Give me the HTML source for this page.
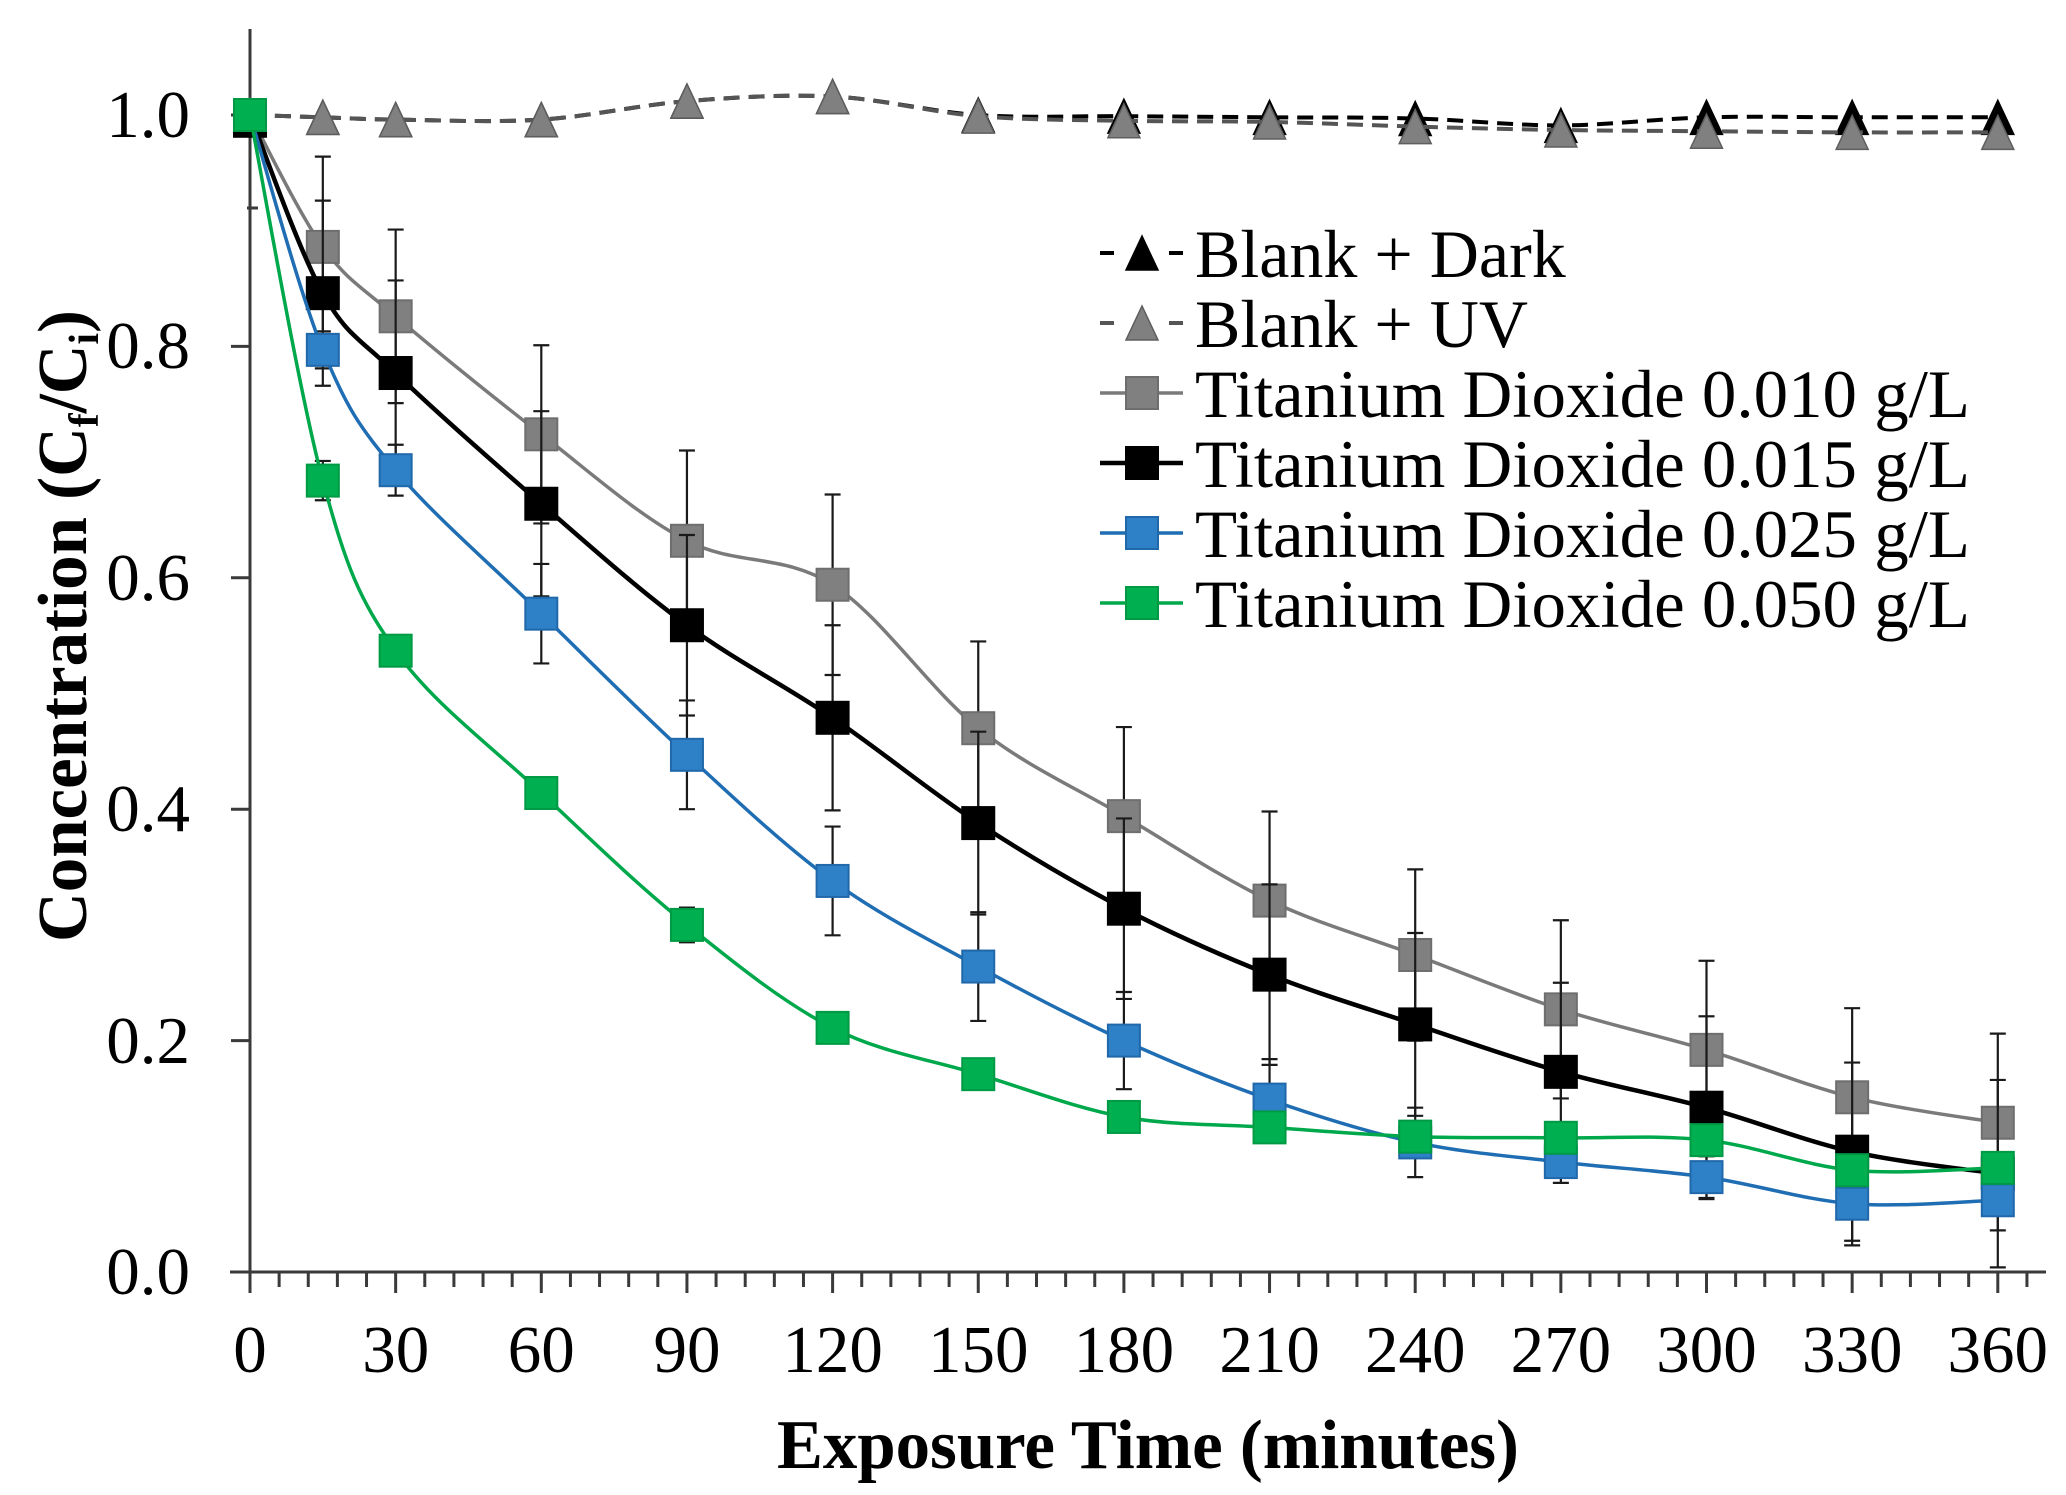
<!DOCTYPE html>
<html>
<head>
<meta charset="utf-8">
<style>
  html,body{margin:0;padding:0;background:#fff;}
  svg{display:block;}
  text{font-family:"Liberation Serif","Times New Roman",serif;fill:#000;}
</style>
</head>
<body>
<svg id="chart" xmlns="http://www.w3.org/2000/svg" width="2066" height="1495" viewBox="0 0 2066 1495">
  <rect x="0" y="0" width="2066" height="1495" fill="#fff"/>
  <g id="axes" stroke="#3a3a3a" stroke-width="3" fill="none"></g>
  <g id="series"></g>

  <!-- Y tick labels -->
  <g font-size="67" text-anchor="end">
    <text x="190" y="137">1.0</text>
    <text x="190" y="368">0.8</text>
    <text x="190" y="600">0.6</text>
    <text x="190" y="831">0.4</text>
    <text x="190" y="1063">0.2</text>
    <text x="190" y="1294">0.0</text>
  </g>

  <!-- X tick labels -->
  <g font-size="67" text-anchor="middle">
    <text x="250" y="1372">0</text>
    <text x="395.7" y="1372">30</text>
    <text x="541.3" y="1372">60</text>
    <text x="687" y="1372">90</text>
    <text x="832.6" y="1372">120</text>
    <text x="978.3" y="1372">150</text>
    <text x="1123.9" y="1372">180</text>
    <text x="1269.6" y="1372">210</text>
    <text x="1415.2" y="1372">240</text>
    <text x="1560.9" y="1372">270</text>
    <text x="1706.5" y="1372">300</text>
    <text x="1852.2" y="1372">330</text>
    <text x="1997.8" y="1372">360</text>
  </g>

  <!-- Axis titles -->
  <text x="1148" y="1468" font-size="70" font-weight="bold" text-anchor="middle" textLength="742" lengthAdjust="spacingAndGlyphs">Exposure Time (minutes)</text>
  <text transform="translate(86,626) rotate(-90)" x="0" y="0" font-size="70" font-weight="bold" text-anchor="middle" textLength="632" lengthAdjust="spacingAndGlyphs">Concentration (C<tspan font-size="42" dy="12">f</tspan><tspan dy="-12">/C</tspan><tspan font-size="42" dy="12">i</tspan><tspan dy="-12">)</tspan></text>

  <!-- Legend -->
  <g id="legendMarks"></g>
  <g font-size="68">
    <text x="1195" y="277">Blank + Dark</text>
    <text x="1195" y="347">Blank + UV</text>
    <text x="1195" y="417" textLength="775" lengthAdjust="spacingAndGlyphs">Titanium Dioxide 0.010 g/L</text>
    <text x="1195" y="487" textLength="775" lengthAdjust="spacingAndGlyphs">Titanium Dioxide 0.015 g/L</text>
    <text x="1195" y="557" textLength="775" lengthAdjust="spacingAndGlyphs">Titanium Dioxide 0.025 g/L</text>
    <text x="1195" y="627" textLength="775" lengthAdjust="spacingAndGlyphs">Titanium Dioxide 0.050 g/L</text>
  </g>
</svg>

<script>
(function(){
  var NS="http://www.w3.org/2000/svg";
  function el(tag,attrs,parent){
    var e=document.createElementNS(NS,tag);
    for(var k in attrs){e.setAttribute(k,attrs[k]);}
    parent.appendChild(e);return e;
  }
  function X(t){return 250+t*4.855;}
  function Y(v){return 1272-v*1157;}

  // Axes
  var ax=document.getElementById('axes');
  el('line',{x1:250,y1:29,x2:250,y2:1272},ax);
  el('line',{x1:230,y1:1272,x2:2046,y2:1272},ax);
  for(var k=0;k<=5;k++){
    var yy=Y(k*0.2);
    el('line',{x1:231,y1:yy,x2:250,y2:yy},ax);
  }
  el('line',{x1:247,y1:208,x2:258,y2:208},ax);
  for(var m=0;m<=61;m++){
    var xx=250+m*29.13;
    if(xx>2040)break;
    var major=(m%5===0);
    el('line',{x1:xx,y1:1272,x2:xx,y2:major?1293:1287},ax);
  }

  var T=[0,15,30,60,90,120,150,180,210,240,270,300,330,360];

  function spline(vals){
    var p=[];
    for(var i=0;i<T.length;i++)p.push([X(T[i]),Y(vals[i])]);
    var n=p.length;
    var d="M"+p[0][0].toFixed(1)+","+p[0][1].toFixed(1);
    for(var i=0;i<n-1;i++){
      var p0=p[Math.max(i-1,0)],p1=p[i],p2=p[i+1],p3=p[Math.min(i+2,n-1)];
      var c1x=p1[0]+(p2[0]-p0[0])/6,c1y=p1[1]+(p2[1]-p0[1])/6;
      var c2x=p2[0]-(p3[0]-p1[0])/6,c2y=p2[1]-(p3[1]-p1[1])/6;
      d+=" C"+c1x.toFixed(1)+","+c1y.toFixed(1)+" "+c2x.toFixed(1)+","+c2y.toFixed(1)+" "+p2[0].toFixed(1)+","+p2[1].toFixed(1);
    }
    return d;
  }

  var S=[
    {type:'tri',vals:[1.0,0.998,0.996,0.996,1.012,1.016,1.0,0.999,0.998,0.997,0.991,0.998,0.998,0.998],
     line:'#000',lw:4,dash:'16 9',fill:'#000',stroke:'#000'},
    {type:'tri',vals:[1.0,0.998,0.996,0.996,1.012,1.016,0.999,0.995,0.994,0.990,0.987,0.986,0.985,0.985],
     line:'#555',lw:4,dash:'16 9',fill:'#808080',stroke:'#5e5e5e'},
    {type:'sq',vals:[1.0,0.886,0.826,0.724,0.632,0.594,0.470,0.394,0.321,0.274,0.227,0.192,0.151,0.129],
     err:[0,0.078,0.075,0.077,0.078,0.078,0.075,0.077,0.077,0.074,0.077,0.077,0.077,0.077],
     line:'#7a7a7a',lw:3.5,fill:'#808080',stroke:'#6e6e6e'},
    {type:'sq',vals:[0.995,0.846,0.777,0.664,0.559,0.479,0.388,0.314,0.257,0.214,0.173,0.142,0.104,0.085],
     err:[0,0.08,0.08,0.08,0.078,0.08,0.079,0.078,0.078,0.079,0.077,0.079,0.077,0.081],
     line:'#000',lw:4.5,fill:'#000',stroke:'#000'},
    {type:'sq',vals:[1.0,0.797,0.693,0.569,0.447,0.338,0.264,0.200,0.149,0.112,0.095,0.082,0.059,0.062],
     err:[0,0.016,0.022,0.043,0.047,0.047,0.047,0.042,0.035,0.03,0.018,0.018,0.036,0.026],
     line:'#1f6db3',lw:3.5,fill:'#2e81c6',stroke:'#2168ab'},
    {type:'sq',vals:[1.0,0.684,0.537,0.414,0.300,0.211,0.171,0.134,0.125,0.117,0.116,0.114,0.088,0.090],
     err:[0,0.017,0.01,0.01,0.015,0.012,0.008,0.008,0.01,0.008,0.008,0.008,0.008,0.008],
     line:'#00a84c',lw:3.5,fill:'#00b050',stroke:'#009a44'}
  ];

  var g=document.getElementById('series');
  function tri(cx,cy,fill,stroke,parent){
    var w=32,h=34;
    el('polygon',{points:(cx)+","+(cy-h/2)+" "+(cx+w/2)+","+(cy+h/2)+" "+(cx-w/2)+","+(cy+h/2),
      fill:fill,stroke:stroke,'stroke-width':1.5},parent);
  }
  function sq(cx,cy,fill,stroke,parent){
    var s=32;
    el('rect',{x:cx-s/2,y:cy-s/2,width:s,height:s,fill:fill,stroke:stroke,'stroke-width':2},parent);
  }

  S.forEach(function(s,si){
    var grp=el('g',{},g);
    var vals=s.vals.slice();
    var lineVals=vals.slice();
    if(si===3){lineVals[0]=1.0;}
    if(s.err){
      for(var i=0;i<T.length;i++){
        var e=s.err[i];if(!e)continue;
        var x=X(T[i]),y1=Y(vals[i]+e),y2=Y(vals[i]-e);
        el('line',{x1:x,y1:y1,x2:x,y2:y2,stroke:'#1a1a1a','stroke-width':2.2},grp);
        el('line',{x1:x-8,y1:y1,x2:x+8,y2:y1,stroke:'#1a1a1a','stroke-width':2.2},grp);
        el('line',{x1:x-8,y1:y2,x2:x+8,y2:y2,stroke:'#1a1a1a','stroke-width':2.2},grp);
      }
    }
    var attrs={d:spline(lineVals),fill:'none',stroke:s.line,'stroke-width':s.lw,'stroke-linejoin':'round'};
    if(s.dash)attrs['stroke-dasharray']=s.dash;
    el('path',attrs,grp);
    for(var i=0;i<T.length;i++){
      var cx=X(T[i]),cy=Y(vals[i]);
      if(s.type==='tri')tri(cx,cy,s.fill,s.stroke,grp);
      else sq(cx,cy,s.fill,s.stroke,grp);
    }
  });

  // Legend markers
  var L=document.getElementById('legendMarks');
  for(var r=0;r<6;r++){
    var s=S[r];
    var cy=277+70*r-24;
    if(s.type==='tri'){
      el('line',{x1:1100,y1:cy,x2:1114,y2:cy,stroke:s.line,'stroke-width':4},L);
      el('line',{x1:1169,y1:cy,x2:1183,y2:cy,stroke:s.line,'stroke-width':4},L);
      tri(1142,cy,s.fill,s.stroke,L);
    }else{
      el('line',{x1:1100,y1:cy,x2:1183,y2:cy,stroke:s.line,'stroke-width':s.lw},L);
      sq(1142,cy,s.fill,s.stroke,L);
    }
  }
})();
</script>
</body>
</html>
